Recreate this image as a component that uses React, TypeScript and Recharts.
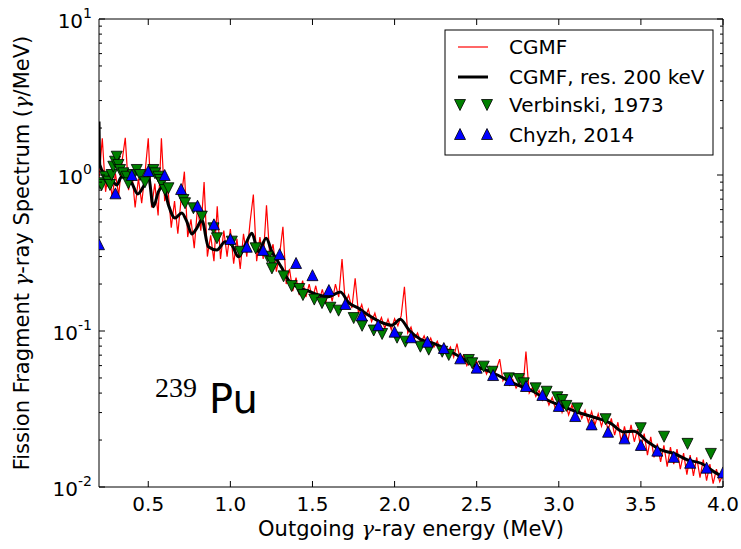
import React from 'react';
import { ComposedChart, Line, Scatter, XAxis, YAxis } from 'recharts';

// CGMF raw spectrum (20 keV bins)
const cgmfEnergy = [
  0.20, 0.22, 0.24, 0.26, 0.28, 0.30, 0.32, 0.34, 0.36, 0.38,
  0.40, 0.42, 0.44, 0.46, 0.48, 0.50, 0.52, 0.54, 0.56, 0.58,
  0.60, 0.62, 0.64, 0.66, 0.68, 0.70, 0.72, 0.74, 0.76, 0.78,
  0.80, 0.82, 0.84, 0.86, 0.88, 0.90, 0.92, 0.94, 0.96, 0.98,
  1.00, 1.02, 1.04, 1.06, 1.08, 1.10, 1.12, 1.14, 1.16, 1.18,
  1.20, 1.22, 1.24, 1.26, 1.28, 1.30, 1.32, 1.34, 1.36, 1.38,
  1.40, 1.42, 1.44, 1.46, 1.48, 1.50, 1.52, 1.54, 1.56, 1.58,
  1.60, 1.62, 1.64, 1.66, 1.68, 1.70, 1.72, 1.74, 1.76, 1.78,
  1.80, 1.82, 1.84, 1.86, 1.88, 1.90, 1.92, 1.94, 1.96, 1.98,
  2.00, 2.02, 2.04, 2.06, 2.08, 2.10, 2.12, 2.14, 2.16, 2.18,
  2.20, 2.22, 2.24, 2.26, 2.28, 2.30, 2.32, 2.34, 2.36, 2.38,
  2.40, 2.42, 2.44, 2.46, 2.48, 2.50, 2.52, 2.54, 2.56, 2.58,
  2.60, 2.62, 2.64, 2.66, 2.68, 2.70, 2.72, 2.74, 2.76, 2.78,
  2.80, 2.82, 2.84, 2.86, 2.88, 2.90, 2.92, 2.94, 2.96, 2.98,
  3.00, 3.02, 3.04, 3.06, 3.08, 3.10, 3.12, 3.14, 3.16, 3.18,
  3.20, 3.22, 3.24, 3.26, 3.28, 3.30, 3.32, 3.34, 3.36, 3.38,
  3.40, 3.42, 3.44, 3.46, 3.48, 3.50, 3.52, 3.54, 3.56, 3.58,
  3.60, 3.62, 3.64, 3.66, 3.68, 3.70, 3.72, 3.74, 3.76, 3.78,
  3.80, 3.82, 3.84, 3.86, 3.88, 3.90, 3.92, 3.94, 3.96, 3.98,
  4.00,
];
const cgmfSpectrum = [
  0.95, 1.72, 0.78, 1.08, 0.72, 1.02, 0.74, 1.22, 1.73, 0.80,
  1.05, 0.62, 0.95, 0.66, 1.02, 1.72, 0.62, 0.88, 0.55, 1.72,
  0.68, 0.82, 0.46, 0.68, 0.42, 0.70, 1.05, 0.40, 0.52, 0.34,
  0.62, 0.44, 0.90, 0.30, 0.41, 0.28, 0.63, 0.29, 0.44, 0.30,
  0.45, 0.27, 0.39, 0.25, 0.42, 0.30, 0.50, 0.75, 0.28, 0.40,
  0.29, 0.64, 0.30, 0.36, 0.24, 0.31, 0.466, 0.20, 0.25, 0.18,
  0.22, 0.17, 0.21, 0.165, 0.20, 0.16, 0.195, 0.155, 0.185, 0.15,
  0.19, 0.155, 0.20, 0.165, 0.289, 0.15, 0.17, 0.14, 0.218, 0.13,
  0.148, 0.122, 0.138, 0.115, 0.13, 0.109, 0.122, 0.104, 0.119, 0.102,
  0.12, 0.108, 0.125, 0.192, 0.097, 0.106, 0.089, 0.097, 0.084, 0.093,
  0.081, 0.090, 0.079, 0.086, 0.075, 0.082, 0.072, 0.079, 0.068, 0.083,
  0.065, 0.070, 0.060, 0.066, 0.058, 0.064, 0.056, 0.061, 0.053, 0.059,
  0.051, 0.057, 0.066, 0.048, 0.052, 0.045, 0.049, 0.043, 0.047, 0.041,
  0.0739, 0.040, 0.0435, 0.038, 0.0415, 0.036, 0.039, 0.0335, 0.0375, 0.0315,
  0.036, 0.030, 0.0345, 0.029, 0.0335, 0.0285, 0.0325, 0.0275, 0.031, 0.026,
  0.0305, 0.025, 0.0295, 0.0245, 0.029, 0.023, 0.0275, 0.0215, 0.026, 0.0195,
  0.0245, 0.0195, 0.025, 0.0195, 0.0235, 0.0175, 0.022, 0.016, 0.021, 0.0155,
  0.019, 0.0145, 0.0185, 0.0135, 0.018, 0.014, 0.0175, 0.013, 0.0165, 0.012,
  0.016, 0.0118, 0.0155, 0.0115, 0.015, 0.011, 0.014, 0.0105, 0.013, 0.0108,
  0.012,
];

// CGMF folded with 200 keV resolution
const smoothEnergy = [
  0.2, 0.205, 0.237, 0.257, 0.277, 0.308, 0.338, 0.369, 0.399, 0.436,
  0.470, 0.501, 0.531, 0.562, 0.592, 0.623, 0.663, 0.704, 0.735, 0.765,
  0.796, 0.826, 0.866, 0.918, 0.968, 1.009, 1.049, 1.090, 1.131, 1.171,
  1.218, 1.253, 1.284, 1.314, 1.354, 1.415, 1.476, 1.537, 1.598, 1.670,
  1.720, 1.781, 1.842, 1.924, 1.985, 2.035, 2.086, 2.157, 2.238, 2.360,
  2.482, 2.604, 2.726, 2.848, 2.930, 3.031, 3.133, 3.235, 3.316, 3.397,
  3.458, 3.539, 3.621, 3.702, 3.784, 3.866, 3.946, 4.0,
];
const smoothSpectrum = [
  2.2, 1.16, 1.0, 0.95, 0.93, 0.863, 0.975, 0.957, 0.889, 0.755,
  0.841, 0.975, 0.626, 0.782, 0.841, 0.642, 0.530, 0.571, 0.502, 0.419,
  0.457, 0.515, 0.347, 0.331, 0.373, 0.356, 0.299, 0.356, 0.423, 0.322,
  0.393, 0.322, 0.285, 0.253, 0.212, 0.190, 0.180, 0.170, 0.166, 0.178,
  0.152, 0.140, 0.126, 0.113, 0.109, 0.119, 0.102, 0.0885, 0.0834, 0.0720,
  0.0605, 0.0536, 0.0462, 0.0408, 0.0361, 0.0327, 0.0297, 0.0276, 0.0256, 0.0225,
  0.0228, 0.0196, 0.0173, 0.0164, 0.0149, 0.0142, 0.0125, 0.0116,
];

// Verbinski, 1973
const verbinskiEnergy = [
  0.206, 0.216, 0.237, 0.257, 0.267, 0.277, 0.287, 0.298, 0.308, 0.318,
  0.328, 0.348, 0.369, 0.379, 0.409, 0.430, 0.450, 0.480, 0.531, 0.541,
  0.562, 0.572, 0.582, 0.602, 0.623, 0.714, 0.724, 0.775, 0.826, 0.897,
  0.918, 1.009, 1.060, 1.154, 1.227, 1.253, 1.253, 1.324, 1.373, 1.420,
  1.442, 1.511, 1.558, 1.609, 1.659, 1.751, 1.802, 1.873, 1.924, 2.015,
  2.066, 2.157, 2.208, 2.290, 2.330, 2.452, 2.473, 2.543, 2.595, 2.696,
  2.757, 2.787, 2.859, 2.926, 2.991, 3.021, 3.046, 3.113, 3.285, 3.499,
  3.641, 3.784, 3.926,
];
const verbinskiSpectrum = [
  0.885, 0.863, 0.975, 0.906, 0.863, 1.0, 1.13, 1.217, 1.31, 1.16,
  1.077, 1.025, 0.975, 0.885, 1.0, 1.077, 1.0, 0.898, 1.077, 1.025,
  0.975, 0.929, 0.885, 0.801, 0.822, 0.691, 0.659, 0.612, 0.541, 0.455,
  0.393, 0.374, 0.322, 0.339, 0.299, 0.278, 0.252, 0.224, 0.194, 0.186,
  0.170, 0.159, 0.151, 0.141, 0.135, 0.121, 0.108, 0.1007, 0.0957, 0.0906,
  0.0854, 0.0793, 0.0759, 0.0736, 0.0702, 0.0652, 0.0621, 0.0591, 0.0548, 0.0497,
  0.0492, 0.0462, 0.0429, 0.0408, 0.0376, 0.0361, 0.0331, 0.0319, 0.0272, 0.0238,
  0.0210, 0.0189, 0.0163,
];

// Chyzh, 2014
const chyzhEnergy = [
  0.2, 0.3, 0.4, 0.5, 0.6, 0.7, 0.8, 0.9, 1.0, 1.1,
  1.2, 1.3, 1.4, 1.5, 1.6, 1.7, 1.8, 1.9, 2.0, 2.1,
  2.2, 2.3, 2.4, 2.5, 2.6, 2.7, 2.8, 2.9, 3.0, 3.1,
  3.2, 3.3, 3.4, 3.5, 3.6, 3.7, 3.8, 3.9, 4.0,
];
const chyzhSpectrum = [
  0.360, 0.763, 1.0, 1.06, 1.0, 0.813, 0.636, 0.483, 0.389, 0.347,
  0.331, 0.311, 0.273, 0.228, 0.183, 0.149, 0.126, 0.109, 0.0990, 0.0912,
  0.0854, 0.0778, 0.0668, 0.0582, 0.0522, 0.0485, 0.0444, 0.0389, 0.0331, 0.0285,
  0.0252, 0.0226, 0.0205, 0.0186, 0.0171, 0.0156, 0.0143, 0.0133, 0.0124,
];

const xTicks = [0.5, 1.0, 1.5, 2.0, 2.5, 3.0, 3.5, 4.0];
const yTicks = [
  0.01, 0.02, 0.03, 0.04, 0.05, 0.06, 0.07, 0.08, 0.09,
  0.1, 0.2, 0.3, 0.4, 0.5, 0.6, 0.7, 0.8, 0.9,
  1, 2, 3, 4, 5, 6, 7, 8, 9, 10,
];
const yDecades: Record<string, string> = { '0.01': '-2', '0.1': '-1', '1': '0', '10': '1' };

const FONT = '"DejaVu Sans", sans-serif';
const GREEK = '"DejaVu Serif", serif';

const toRows = (xs: number[], ys: number[]) => xs.map((e, i) => ({ e, v: ys[i] }));
const cgmf = toRows(cgmfEnergy, cgmfSpectrum);
const smooth = toRows(smoothEnergy, smoothSpectrum);
const verbinski = toRows(verbinskiEnergy, verbinskiSpectrum);
const chyzh = toRows(chyzhEnergy, chyzhSpectrum);

const Tri = ({ cx, cy, down, fill }: any) => {
  const h = 5.5;
  const pts = down
    ? `${cx - h},${cy - h} ${cx + h},${cy - h} ${cx},${cy + h}`
    : `${cx},${cy - h} ${cx - h},${cy + h} ${cx + h},${cy + h}`;
  return <polygon points={pts} fill={fill} stroke="#000" strokeWidth={0.8} />;
};

const BottomTick = ({ x, y, payload }: any) => (
  <g>
    <line x1={x} y1={y} x2={x} y2={y - 6} stroke="#000" />
    <text x={x} y={y + 24} textAnchor="middle" fontSize={20} fontFamily={FONT} fill="#000">
      {payload.value.toFixed(1)}
    </text>
  </g>
);

const TopTick = ({ x, y }: any) => <line x1={x} y1={y} x2={x} y2={y + 6} stroke="#000" />;

const LeftTick = ({ x, y, payload }: any) => {
  const exp = yDecades[String(payload.value)];
  const len = exp ? 6 : 3;
  return (
    <g>
      <line x1={x} y1={y} x2={x + len} y2={y} stroke="#000" />
      {exp && (
        <text x={x - 7} y={y + 9} textAnchor="end" fontSize={20} fontFamily={FONT} fill="#000">
          10<tspan fontSize={14} dy={-10}>{exp}</tspan>
        </text>
      )}
    </g>
  );
};

const RightTick = ({ x, y, payload }: any) => {
  const len = yDecades[String(payload.value)] ? 6 : 3;
  return <line x1={x} y1={y} x2={x - len} y2={y} stroke="#000" />;
};

const Overlay = () => (
  <svg width={741} height={549} style={{ position: 'absolute', left: 0, top: 0, pointerEvents: 'none' }}>
    <text x={411} y={536} textAnchor="middle" fontSize={21} fontFamily={FONT} fill="#000">
      Outgoing <tspan fontStyle="italic" fontFamily={GREEK}>γ</tspan>-ray energy (MeV)
    </text>
    <text
      transform="translate(29,253) rotate(-90)"
      textAnchor="middle"
      fontSize={21}
      fontFamily={FONT}
      fill="#000"
    >
      Fission Fragment <tspan fontStyle="italic" fontFamily={GREEK}>γ</tspan>-ray Spectrum (
      <tspan fontStyle="italic" fontFamily={GREEK}>γ</tspan>/MeV)
    </text>
    <text x={155} y={397} fontSize={28} fontFamily='"Liberation Serif", serif' fill="#000">239</text>
    <text x={209} y={413} fontSize={40} fontFamily={FONT} fill="#000">Pu</text>

    <g fontFamily={FONT} fontSize={20} fill="#000">
      <rect x={445} y={30} width={268} height={125} fill="#fff" stroke="#000" />
      <line x1={458} y1={47} x2={488} y2={47} stroke="#ff0000" strokeWidth={1.2} />
      <text x={509} y={47} dominantBaseline="central">CGMF</text>
      <line x1={458} y1={77} x2={488} y2={77} stroke="#000" strokeWidth={3} />
      <text x={509} y={77} dominantBaseline="central">CGMF, res. 200 keV</text>
      <Tri cx={460} cy={105} down fill="#008000" />
      <Tri cx={487} cy={105} down fill="#008000" />
      <text x={509} y={105} dominantBaseline="central">Verbinski, 1973</text>
      <Tri cx={460} cy={134} fill="#0000ff" />
      <Tri cx={487} cy={134} fill="#0000ff" />
      <text x={509} y={135} dominantBaseline="central">Chyzh, 2014</text>
    </g>
  </svg>
);

export default function App() {
  return (
    <div style={{ position: 'absolute', left: 0, top: 0, width: 741, height: 549, background: '#fff' }}>
      <ComposedChart width={741} height={549} margin={{ top: 18, right: 17, bottom: 0, left: 0 }}>
        <XAxis
          xAxisId="b"
          dataKey="e"
          type="number"
          domain={[0.2, 4.0]}
          ticks={xTicks}
          interval={0}
          height={62}
          tickSize={0}
          tickMargin={0}
          tickLine={false}
          axisLine={{ stroke: '#000' }}
          tick={<BottomTick />}
          allowDataOverflow
        />
        <XAxis
          xAxisId="t"
          orientation="top"
          dataKey="e"
          type="number"
          domain={[0.2, 4.0]}
          ticks={xTicks}
          interval={0}
          height={1}
          tickSize={0}
          tickMargin={0}
          tickLine={false}
          axisLine={{ stroke: '#000' }}
          tick={<TopTick />}
          allowDataOverflow
        />
        <YAxis
          yAxisId="l"
          type="number"
          scale="log"
          domain={[0.01, 10]}
          ticks={yTicks}
          interval={0}
          width={99}
          tickSize={0}
          tickMargin={0}
          tickLine={false}
          axisLine={{ stroke: '#000' }}
          tick={<LeftTick />}
          allowDataOverflow
        />
        <YAxis
          yAxisId="r"
          orientation="right"
          type="number"
          scale="log"
          domain={[0.01, 10]}
          ticks={yTicks}
          interval={0}
          width={1}
          tickSize={0}
          tickMargin={0}
          tickLine={false}
          axisLine={{ stroke: '#000' }}
          tick={<RightTick />}
          allowDataOverflow
        />
        <Line
          xAxisId="b"
          yAxisId="l"
          data={cgmf}
          dataKey="v"
          type="linear"
          stroke="#ff0000"
          strokeWidth={1.2}
          dot={false}
          isAnimationActive={false}
        />
        <Line
          xAxisId="b"
          yAxisId="l"
          data={smooth}
          dataKey="v"
          type="monotone"
          stroke="#000"
          strokeWidth={3}
          dot={false}
          isAnimationActive={false}
        />
        <Scatter
          xAxisId="b"
          yAxisId="l"
          data={verbinski}
          dataKey="v"
          shape={(p: any) => <Tri cx={p.cx} cy={p.cy} down fill="#008000" />}
          isAnimationActive={false}
        />
        <Scatter
          xAxisId="b"
          yAxisId="l"
          data={chyzh}
          dataKey="v"
          shape={(p: any) => <Tri cx={p.cx} cy={p.cy} fill="#0000ff" />}
          isAnimationActive={false}
        />
      </ComposedChart>
      <Overlay />
    </div>
  );
}
